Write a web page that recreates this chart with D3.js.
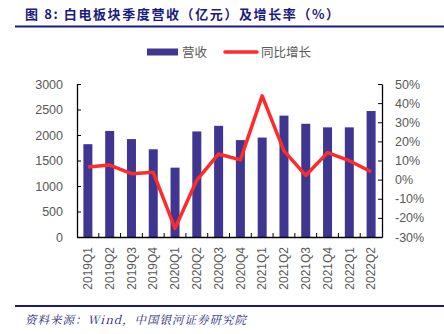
<!DOCTYPE html>
<html><head><meta charset="utf-8">
<script src="https://cdn.jsdelivr.net/npm/d3@7"></script>
<style>
html,body{margin:0;padding:0;background:#fff;}
svg{display:block;}
</style>
</head><body>
<svg id="c" width="444" height="334"></svg>
<script>
const categories = ["2019Q1","2019Q2","2019Q3","2019Q4","2020Q1","2020Q2","2020Q3","2020Q4","2021Q1","2021Q2","2021Q3","2021Q4","2022Q1","2022Q2"];
const revenue = [1820, 2080, 1920, 1720, 1360, 2070, 2180, 1900, 1950, 2380, 2220, 2150, 2150, 2470];
const growth = [6.6, 7.6, 3.1, 3.8, -25.5, -0.2, 13.4, 10.3, 43.8, 15.0, 2.2, 14.1, 9.9, 4.1];
const leftTicks = [0, 500, 1000, 1500, 2000, 2500, 3000];
const rightTicks = [-30, -20, -10, 0, 10, 20, 30, 40, 50];
const title = "图 8: 白电板块季度营收（亿元）及增长率（%）";
const source = "资料来源：Wind，中国银河证券研究院";
const legendNames = ["营收", "同比增长"];

const svg = d3.select("#c");
const navy = "#1a1a80";
const barColor = "#3f3691";
const lineColor = "#ff2a2a";
const grey = "#595959";
const m = {l: 77, r: 382, t: 84, b: 237};

// title
svg.append("text").attr("x", 25).attr("y", 19)
  .attr("font-family", "'Noto Sans CJK SC', sans-serif").attr("font-weight", "bold")
  .attr("font-size", 13).attr("letter-spacing", 1.6).attr("fill", navy).text(title);
svg.append("line").attr("x1", 15).attr("x2", 444).attr("y1", 26.5).attr("y2", 26.5)
  .attr("stroke", navy).attr("stroke-width", 2);

// bottom line + source
svg.append("line").attr("x1", 15).attr("x2", 444).attr("y1", 306).attr("y2", 306)
  .attr("stroke", navy).attr("stroke-width", 2);
svg.append("text").attr("x", 25).attr("y", 324)
  .attr("font-family", "'Noto Serif CJK SC','Noto Sans CJK SC', serif").attr("font-style", "italic")
  .attr("font-size", 11.5).attr("letter-spacing", 1).attr("fill", navy).text(source);

const x = d3.scaleBand().domain(categories).range([m.l, m.r]).paddingInner(0).paddingOuter(0);
const yL = d3.scaleLinear().domain([0, 3000]).range([m.b, m.t]);
const yR = d3.scaleLinear().domain([-30, 50]).range([m.b, m.t]);

// bars
const bw = 9;
svg.append("g").selectAll("rect").data(revenue).join("rect")
  .attr("x", (d, i) => x(categories[i]) + x.bandwidth() / 2 - bw / 2)
  .attr("y", d => yL(d)).attr("width", bw).attr("height", d => yL(0) - yL(d))
  .attr("fill", barColor);

// axes
const fontFam = "'Liberation Sans', Arial, sans-serif";
const gL = svg.append("g").attr("transform", `translate(${m.l},0)`)
  .call(d3.axisLeft(yL).tickValues(leftTicks).tickSizeInner(-4).tickSizeOuter(0).tickPadding(14).tickFormat(d3.format("d")));
const gR = svg.append("g").attr("transform", `translate(${m.r},0)`)
  .call(d3.axisRight(yR).tickValues(rightTicks).tickSizeInner(-4).tickSizeOuter(0).tickPadding(13).tickFormat(d => d + "%"));
const gB = svg.append("g").attr("transform", `translate(0,${m.b})`)
  .call(d3.axisBottom(x).tickSize(0).tickPadding(10));
// inward bottom ticks at band boundaries
svg.append("g").selectAll("line").data(categories.slice(1)).join("line")
  .attr("x1", d => x(d)).attr("x2", d => x(d)).attr("y1", m.b).attr("y2", m.b - 4)
  .attr("stroke", "#000").attr("stroke-width", 1);

[gL, gR, gB].forEach(g => {
  g.selectAll(".domain").attr("stroke", "#000").attr("stroke-width", 1.3);
  g.selectAll(".tick line").attr("stroke", "#000");
  g.selectAll("text").attr("fill", grey).attr("font-family", fontFam).attr("font-size", 12.5);
});
gB.selectAll("text").attr("transform", "rotate(-90)").attr("text-anchor", "end")
  .attr("dy", "0.35em").attr("x", -10).attr("y", 0).attr("font-size", 12);

// line
const line = d3.line().x((d, i) => x(categories[i]) + x.bandwidth() / 2).y(d => yR(d));
svg.append("path").datum(growth).attr("d", line).attr("fill", "none")
  .attr("stroke", lineColor).attr("stroke-width", 3.5).attr("stroke-linejoin", "round");

// legend
const lg = svg.append("g");
lg.append("rect").attr("x", 147).attr("y", 48.5).attr("width", 31).attr("height", 7).attr("fill", barColor);
lg.append("text").attr("x", 182).attr("y", 56.5).attr("font-family", "'Noto Sans CJK SC', sans-serif")
  .attr("font-size", 12.5).attr("fill", grey).text(legendNames[0]);
lg.append("line").attr("x1", 225).attr("x2", 257).attr("y1", 52).attr("y2", 52)
  .attr("stroke", lineColor).attr("stroke-width", 3.5).attr("stroke-linecap", "round");
lg.append("text").attr("x", 261).attr("y", 56.5).attr("font-family", "'Noto Sans CJK SC', sans-serif")
  .attr("font-size", 12.5).attr("fill", grey).text(legendNames[1]);
</script>
</body></html>
